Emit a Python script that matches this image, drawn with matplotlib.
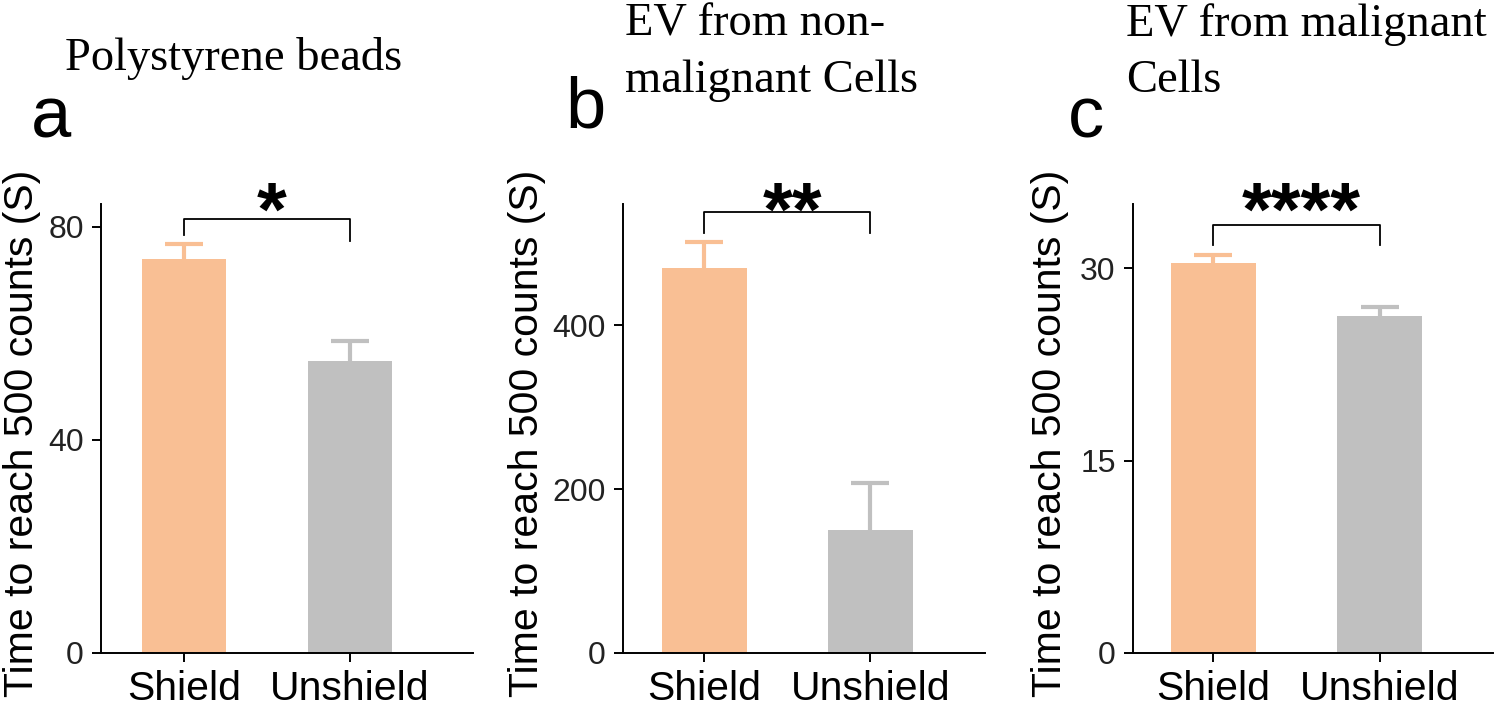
import matplotlib
matplotlib.use("Agg")
import matplotlib.pyplot as plt
import matplotlib.transforms as mtransforms

# bar data
groups = ["Shield", "Unshield"]
titles = [
    ["Polystyrene beads"],
    ["EV from non-", "malignant Cells"],
    ["EV from malignant", "Cells"],
]
panel_letters = ["a", "b", "c"]
means = [[74.0, 54.8], [469.5, 150.0], [30.4, 26.3]]
errors = [[2.8, 3.8], [32.0, 57.0], [0.6, 0.7]]
y_tops = [84.3, 547.6, 35.0]
y_ticks = [[0, 40, 80], [0, 200, 400], [0, 15, 30]]
stars = ["*", "**", "****"]
# bracket: horizontal level, left leg end, right leg end
brackets = [[81.5, 78.5, 77.4], [538, 512, 512], [33.4, 31.8, 31.8]]

BAR_COLORS = ["#F9BF94", "#C0C0C0"]
SANS = "Liberation Sans"
SERIF = "Liberation Serif"

fig = plt.figure(figsize=(15, 7.06), dpi=100)

W, H = 1500, 706
axes_px = [(101, 473, -0.50, 1.74), (623, 985, -0.49, 1.69), (1133, 1493, -0.48, 1.68)]
ylabel_x = [22, 527, 1050]
title_x = [65, 625, 1126]
title_y = [[70], [36, 92], [36, 92]]
letter_pos = [(31, 137), (565, 127), (1068, 137)]
ax_bottom, ax_top = 653, 204

for i in range(3):
    x0, x1, xl, xr = axes_px[i]
    ax = fig.add_axes([x0 / W, 1 - ax_bottom / H, (x1 - x0) / W, (ax_bottom - ax_top) / H])
    xs = [0, 1]
    for j in range(2):
        ax.bar(xs[j], means[i][j], width=0.51, color=BAR_COLORS[j], zorder=2)
        _, caps, _ = ax.errorbar(xs[j], means[i][j], yerr=[[0], [errors[i][j]]], fmt="none",
                                 ecolor=BAR_COLORS[j], elinewidth=3, capsize=14,
                                 capthick=3, zorder=1)
        caps[0].set_visible(False)
    ax.set_xlim(xl, xr)
    ax.set_ylim(0, y_tops[i])
    ax.set_yticks(y_ticks[i])
    ax.set_xticks(xs)
    ax.set_xticklabels(groups, fontsize=29.5, family=SANS)
    for lab in ax.get_yticklabels():
        lab.set_fontsize(23)
        lab.set_family(SANS)
        lab.set_color("#222222")
    ax.spines["top"].set_visible(False)
    ax.spines["right"].set_visible(False)
    for s in ["left", "bottom"]:
        ax.spines[s].set_linewidth(1.4)
    ax.tick_params(axis="both", length=6.5, width=1.4, pad=6)

    # significance bracket
    lvl, l_end, r_end = brackets[i]
    ax.plot([0, 0, 1, 1], [l_end, lvl, lvl, r_end], color="black", lw=1.3, clip_on=False)
    trans = mtransforms.blended_transform_factory(ax.transData, ax.transAxes)
    ax.text(0.53, 0.975, stars[i], transform=trans, ha="center", va="center",
            fontsize=55, family=SANS, fontweight="bold", clip_on=False)

    fig.text(ylabel_x[i] / W, 1 - 433 / H, "Time to reach 500 counts (S)", rotation=90,
             ha="center", va="center", fontsize=29.5, family=SANS)
    for line, ty in zip(titles[i], title_y[i]):
        fig.text(title_x[i] / W, 1 - ty / H, line, ha="left", va="baseline",
                 fontsize=33.5, family=SERIF)
    lx, ly = letter_pos[i]
    fig.text(lx / W, 1 - ly / H, panel_letters[i], ha="left", va="baseline",
             fontsize=52, family=SANS)

fig.savefig("out.png", dpi=100)
